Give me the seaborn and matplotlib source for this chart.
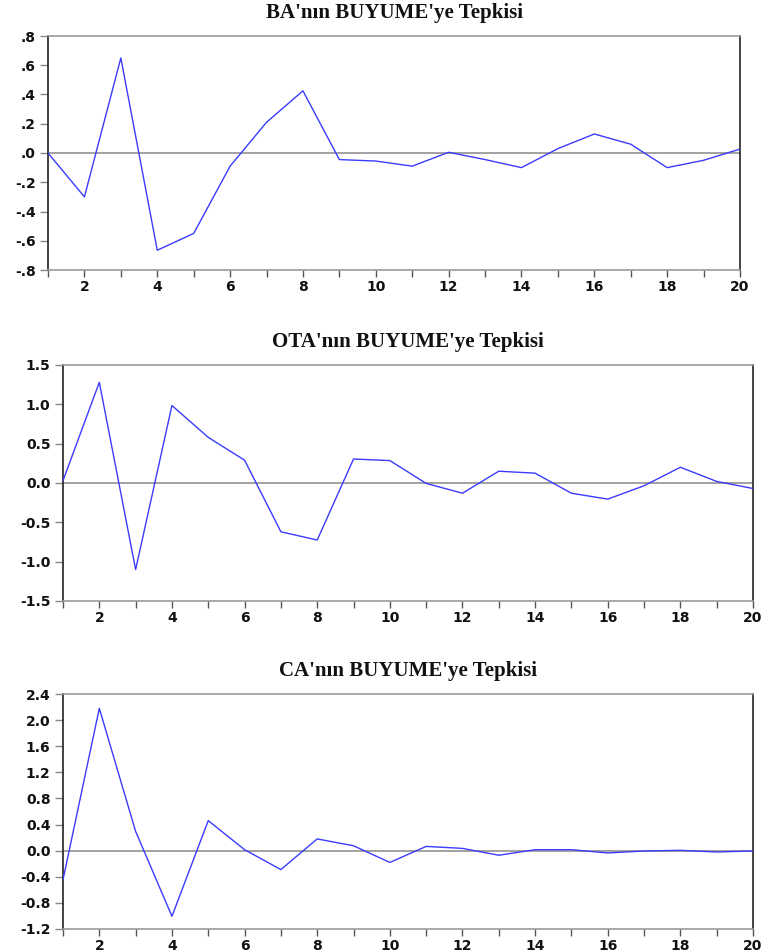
import matplotlib
matplotlib.use("Agg")
import matplotlib.pyplot as plt
import pandas as pd
import seaborn as sns
from matplotlib.ticker import FuncFormatter, MultipleLocator

# Impulse-response horizon (periods)
periods = list(range(1, 21))

# Responses to a BUYUME shock
ba_response = [0.00, -0.30, 0.65, -0.665, -0.55, -0.09, 0.21, 0.425, -0.045, -0.055,
               -0.09, 0.005, -0.045, -0.10, 0.03, 0.13, 0.06, -0.10, -0.05, 0.027]
ota_response = [0.03, 1.28, -1.10, 0.985, 0.58, 0.29, -0.62, -0.725, 0.305, 0.285,
                -0.005, -0.13, 0.15, 0.125, -0.13, -0.205, -0.035, 0.20, 0.02, -0.07]
ca_response = [-0.445, 2.18, 0.295, -1.005, 0.46, 0.015, -0.29, 0.18, 0.075, -0.18,
               0.065, 0.035, -0.07, 0.015, 0.015, -0.035, -0.005, 0.005, -0.02, -0.005]

titles = ["BA'nın BUYUME'ye Tepkisi",
          "OTA'nın BUYUME'ye Tepkisi",
          "CA'nın BUYUME'ye Tepkisi"]
y_limits = [(-0.8, 0.8), (-1.5, 1.5), (-1.2, 2.4)]
y_steps = [0.2, 0.5, 0.4]

sns.set_theme(style="white")
plt.rcParams["font.family"] = ["DejaVu Sans"]

W, H = 762, 952
fig = plt.figure(figsize=(W / 100, H / 100), dpi=100)

# axes boxes in pixels: left, right, top, bottom
boxes = [(48, 740, 36, 270), (63, 753, 365, 601), (63, 753, 694, 929)]


def dot_fmt(v, pos):
    s = f"{v:.1f}"
    if s.startswith("-0."):
        s = "-" + s[2:]
    elif s.startswith("0."):
        s = s[1:]
    if s in ("-.0",):
        s = ".0"
    return s


def plain_fmt(v, pos):
    s = f"{v:.1f}"
    if s == "-0.0":
        s = "0.0"
    return s


series = [ba_response, ota_response, ca_response]
for i, (vals, title, ylim, step, (l, r, t, b)) in enumerate(
        zip(series, titles, y_limits, y_steps, boxes)):
    ax = fig.add_axes([l / W, (H - b) / H, (r - l) / W, (b - t) / H])
    df = pd.DataFrame({"period": periods, "response": vals})
    ax.axhline(0, color="#9a9a9a", lw=1.3, zorder=1)
    sns.lineplot(data=df, x="period", y="response", ax=ax,
                 color="#3b3bff", lw=1.0, zorder=3)
    ax.set_xlim(1, 20)
    ax.set_ylim(*ylim)
    ax.set_xlabel("")
    ax.set_ylabel("")
    ax.xaxis.set_major_locator(MultipleLocator(2))
    ax.xaxis.set_minor_locator(MultipleLocator(1))
    ax.yaxis.set_major_locator(MultipleLocator(step))
    ax.yaxis.set_major_formatter(FuncFormatter(dot_fmt if i == 0 else plain_fmt))

    for side in ("left", "right"):
        ax.spines[side].set_color("#222222")
        ax.spines[side].set_linewidth(1.2)
    for side in ("top", "bottom"):
        ax.spines[side].set_color("#999999")
        ax.spines[side].set_linewidth(1.2)

    ax.tick_params(axis="x", which="both", direction="out", length=5,
                   width=1.0, color="#555555", bottom=True, pad=2,
                   labelsize=10, labelcolor="#111111")
    ax.tick_params(axis="y", which="major", direction="out", length=6,
                   width=1.0, color="#888888", left=True, pad=3,
                   labelsize=10, labelcolor="#111111")
    for lab in ax.get_xticklabels() + ax.get_yticklabels():
        lab.set_fontweight("bold")

    ax.set_title(title, fontsize=15, fontweight="bold",
                 family=["Liberation Serif", "DejaVu Serif"],
                 pad=13, color="#111111")

fig.savefig("out.png", dpi=100, facecolor="white")
